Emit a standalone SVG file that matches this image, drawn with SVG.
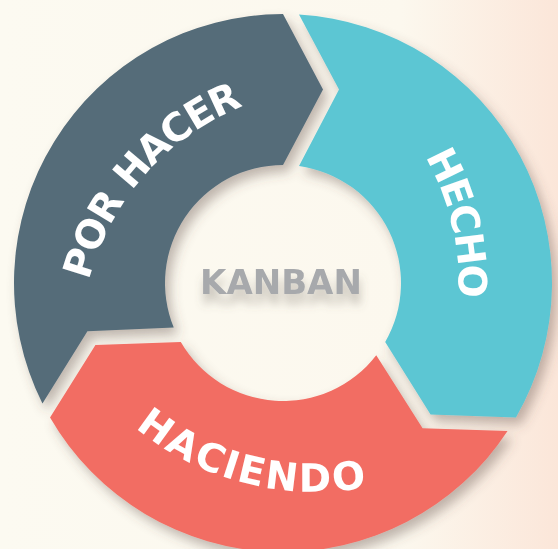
<svg xmlns="http://www.w3.org/2000/svg" width="558" height="549" viewBox="0 0 558 549">
  <defs>
    <linearGradient id="bg" x1="0" y1="0" x2="1" y2="0">
      <stop offset="0" stop-color="#fcfaf1"/>
      <stop offset="0.72" stop-color="#fcf8ee"/>
      <stop offset="1" stop-color="#fbe6d9"/>
    </linearGradient>
    <filter id="shadow" x="-10%" y="-10%" width="125%" height="125%">
      <feDropShadow dx="5" dy="7" stdDeviation="6" flood-color="#5a4a40" flood-opacity="0.38"/>
    </filter>
    <filter id="text-shadow" x="-20%" y="-50%" width="140%" height="220%">
      <feDropShadow dx="1" dy="10" stdDeviation="5" flood-color="#6b625a" flood-opacity="0.35"/>
    </filter>
    <!-- label guide arcs (glyph centres run along these) -->
    <path id="arc-por-hacer" d="M 80.9 430.1 A 270 270 0 0 1 390.7 79.8"/>
    <path id="arc-hecho" d="M 281.0 24.5 A 270 270 0 0 1 387.0 480.0"/>
    <path id="arc-haciendo" d="M 55.0 280.9 A 270 270 0 0 0 508.1 396.4"/>
  </defs>
  <style>
    .label { font-family: "DejaVu Sans", "Liberation Sans", sans-serif; font-weight: bold; font-size: 39px; fill: #ffffff; dominant-baseline: central; }
    .center { font-family: "DejaVu Sans", "Liberation Sans", sans-serif; font-weight: bold; font-size: 34px; fill: #a7a9ac; }
  </style>

  <rect width="558" height="549" fill="url(#bg)"/>

  <!-- ring of three chevron segments around centre (283,283), r 118..269 -->
  <g id="segments" filter="url(#shadow)">
    <g id="por-hacer">
      <path fill="#546c79" d="M 42.45 403.4 A 269 269 0 0 1 283 14 L 323 89.5 L 283 165 A 118 118 0 0 0 173.75 327.6 L 87.43 331.25 Z"/>
      <text class="label"><textPath href="#arc-por-hacer" startOffset="50%" text-anchor="middle">POR HACER</textPath></text>
    </g>
    <g id="hecho">
      <path fill="#5cc6d3" d="M 299 14.48 A 269 269 0 0 1 515.96 417.5 L 430.57 414.39 L 385.19 342 A 118 118 0 0 0 299 166.09 L 339 89.5 Z"/>
      <text class="label"><textPath href="#arc-hecho" startOffset="50%" text-anchor="middle">HECHO</textPath></text>
    </g>
    <g id="haciendo">
      <path fill="#f26d63" d="M 507.55 431.12 A 269 269 0 0 1 50.04 417.5 L 95.43 345.11 L 180.81 342 A 118 118 0 0 0 376.25 355.32 L 422.57 428.25 Z"/>
      <text class="label" letter-spacing="0.7"><textPath href="#arc-haciendo" startOffset="50%" text-anchor="middle">HACIENDO</textPath></text>
    </g>
  </g>

  <g id="kanban" filter="url(#text-shadow)">
    <text class="center" x="281" y="294" text-anchor="middle">KANBAN</text>
  </g>
</svg>
